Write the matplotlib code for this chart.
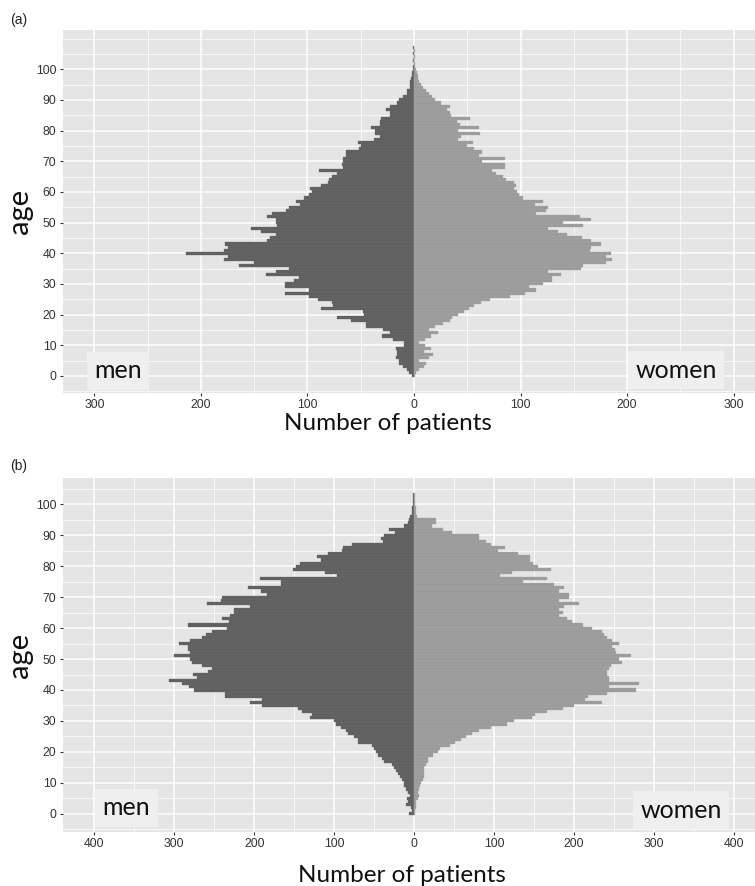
import matplotlib
matplotlib.use("Agg")
import matplotlib.pyplot as plt
from matplotlib.ticker import MultipleLocator, FuncFormatter
import numpy as np

# ---------------- data ----------------
ages_a = list(range(0, 108))
men_a = [2, 5, 7, 10, 14, 14, 17, 16, 16, 17, 9, 9, 20, 30, 23, 29, 45, 45, 59, 72,
         47, 48, 87, 76, 77, 90, 99, 121, 99, 121, 121, 113, 108, 139, 130, 117, 164, 150, 178, 175,
         214, 178, 175, 177, 138, 135, 130, 144, 153, 129, 130, 130, 138, 133, 120, 117, 107, 111, 103, 99,
         96, 98, 87, 81, 80, 77, 72, 89, 67, 68, 67, 67, 64, 64, 52, 50, 53, 38, 32, 37,
         37, 40, 32, 32, 31, 23, 23, 26, 23, 16, 14, 10, 7, 7, 4, 4, 4, 3, 2, 2,
         1, 1, 0, 1, 0, 1, 0, 1]
women_a = [1, 2, 5, 9, 11, 5, 14, 18, 9, 16, 10, 5, 10, 16, 23, 14, 20, 27, 34, 36,
           41, 47, 52, 56, 63, 71, 90, 104, 115, 108, 121, 130, 130, 138, 126, 157, 159, 180, 186, 180,
           185, 165, 166, 176, 166, 158, 144, 135, 126, 159, 140, 166, 156, 115, 124, 126, 114, 121, 102, 99,
           97, 94, 96, 94, 86, 84, 77, 73, 85, 85, 64, 85, 61, 64, 56, 50, 55, 41, 44, 62,
           41, 61, 43, 40, 53, 35, 34, 31, 34, 25, 20, 17, 14, 11, 8, 7, 5, 4, 4, 3,
           2, 1, 1, 0, 1, 0, 1, 0]

ages_b = list(range(0, 104))
men_b = [6, 3, 4, 10, 8, 9, 5, 7, 10, 12, 13, 15, 18, 20, 22, 25, 28, 38, 40, 45,
         48, 50, 52, 70, 70, 75, 82, 85, 92, 98, 100, 130, 128, 140, 145, 190, 205, 190, 236, 236,
         275, 282, 290, 307, 272, 277, 258, 253, 266, 278, 280, 301, 280, 283, 283, 294, 280, 266, 260, 253,
         234, 283, 232, 240, 230, 225, 225, 205, 259, 242, 240, 184, 192, 208, 167, 167, 193, 96, 111, 152,
         148, 143, 117, 122, 108, 90, 89, 78, 39, 41, 37, 24, 31, 12, 7, 6, 5, 3, 2, 2,
         1, 1, 1, 1]
women_b = [1, 1, 2, 2, 3, 5, 6, 5, 6, 7, 9, 11, 12, 12, 12, 13, 15, 17, 18, 24,
           30, 33, 45, 51, 59, 65, 72, 81, 96, 117, 125, 148, 151, 166, 186, 200, 235, 214, 218, 242,
           278, 244, 282, 244, 244, 242, 242, 244, 246, 260, 256, 272, 253, 252, 248, 256, 248, 242, 238, 235,
           223, 211, 198, 192, 182, 187, 182, 188, 206, 182, 194, 194, 182, 188, 175, 137, 167, 108, 123, 172,
           155, 149, 145, 145, 130, 105, 114, 96, 90, 81, 81, 48, 36, 22, 27, 27, 4, 3, 2, 2,
           1, 1, 1, 1]

y_ticks = [0, 10, 20, 30, 40, 50, 60, 70, 80, 90, 100]
x_ticks_a = [-300, -200, -100, 0, 100, 200, 300]
x_ticks_b = [-400, -300, -200, -100, 0, 100, 200, 300, 400]

# ---------------- style ----------------
W, H = 755, 886
fig = plt.figure(figsize=(W / 100, H / 100), dpi=100)
fig.patch.set_facecolor("white")

PANEL_BG = "#e5e5e5"
BOX_BG = "#efefef"
MEN_C = "#606060"
WOMEN_C = "#9b9b9b"
TICK_C = "#333333"
BIG_FONT = ["Lato", "DejaVu Sans"]
TICK_FONT = ["Liberation Sans", "DejaVu Sans"]


def px_axes(left, top, right, bottom):
    return [left / W, 1 - bottom / H, (right - left) / W, (bottom - top) / H]


def draw_panel(ax, ages, men, women, xticks, xlim, ylim, men_pos, women_pos):
    ax.set_facecolor(PANEL_BG)
    ax.barh(ages, [-m for m in men], height=1.0, color=MEN_C,
            edgecolor="#6c6c6c", linewidth=0.25, zorder=3)
    ax.barh(ages, women, height=1.0, color=WOMEN_C,
            edgecolor="#aaaaaa", linewidth=0.25, zorder=3)
    ax.set_xlim(*xlim)
    ax.set_ylim(*ylim)
    ax.set_xticks(xticks)
    ax.xaxis.set_minor_locator(MultipleLocator(50))
    ax.set_yticks(y_ticks)
    ax.yaxis.set_minor_locator(MultipleLocator(5))
    ax.xaxis.set_major_formatter(FuncFormatter(lambda v, p: f"{abs(int(round(v)))}"))
    ax.grid(which="major", color="white", linewidth=1.1, zorder=1)
    ax.grid(which="minor", color="white", linewidth=0.5, zorder=1)
    ax.set_axisbelow(True)
    for s in ax.spines.values():
        s.set_visible(False)
    ax.tick_params(which="major", length=2.5, width=0.8, color=TICK_C,
                   labelcolor=TICK_C, labelsize=8.8, pad=2)
    ax.tick_params(which="minor", length=0)
    for lab in ax.get_xticklabels() + ax.get_yticklabels():
        lab.set_fontfamily(TICK_FONT)
    ax.text(men_pos[0], men_pos[1], "men", ha="center", va="center",
            fontsize=18, family=BIG_FONT, color="#111111", zorder=5,
            bbox=dict(boxstyle="square,pad=0.3", facecolor=BOX_BG, edgecolor="none"))
    ax.text(women_pos[0], women_pos[1], "women", ha="center", va="center",
            fontsize=18, family=BIG_FONT, color="#111111", zorder=5,
            bbox=dict(boxstyle="square,pad=0.3", facecolor=BOX_BG, edgecolor="none"))


ax_a = fig.add_axes(px_axes(62.5, 30, 765.5, 392.7))
draw_panel(ax_a, ages_a, men_a, women_a, x_ticks_a, (-330, 330), (-5.5, 112.8),
           (-278, 1.6), (246, 1.8))

ax_b = fig.add_axes(px_axes(62.5, 477.7, 765.5, 831.7))
draw_panel(ax_b, ages_b, men_b, women_b, x_ticks_b, (-440, 440), (-5.8, 108.6),
           (-360, 1.9), (334, 1.2))


def ftext(x, y, s, **kw):
    fig.text(x / W, 1 - y / H, s, **kw)


ftext(10, 20, "(a)", fontsize=10, family=TICK_FONT, color="#222222", ha="left", va="center")
ftext(10, 466, "(b)", fontsize=10, family=TICK_FONT, color="#222222", ha="left", va="center")
ftext(20, 211, "age", fontsize=21, family=BIG_FONT, color="#111111",
      ha="center", va="center", rotation=90)
ftext(20, 655, "age", fontsize=21, family=BIG_FONT, color="#111111",
      ha="center", va="center", rotation=90)
ftext(388, 424, "Number of patients", fontsize=17.5, family=BIG_FONT, color="#111111",
      ha="center", va="center")
ftext(402, 875, "Number of patients", fontsize=17.5, family=BIG_FONT, color="#111111",
      ha="center", va="center")

fig.savefig("out.png", dpi=100)
